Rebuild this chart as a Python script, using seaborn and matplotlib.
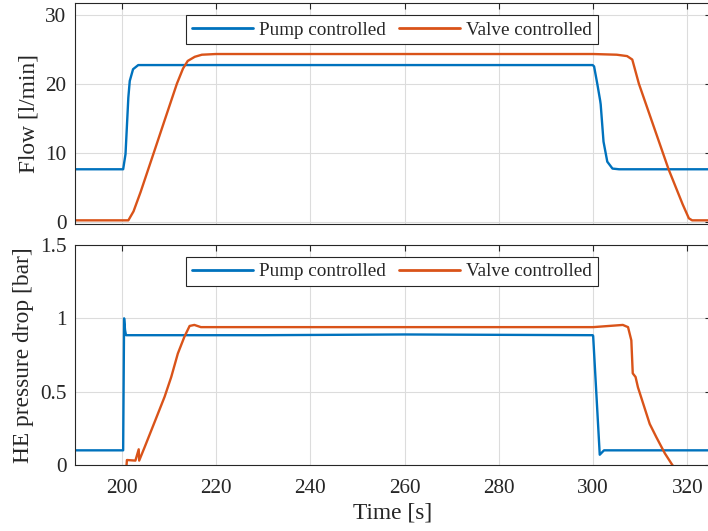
import numpy as np
import pandas as pd
import matplotlib
matplotlib.use("Agg")
import matplotlib.pyplot as plt
import seaborn as sns

# ---------------- data ----------------
series_names = ["Pump controlled", "Valve controlled"]
colors = ["#0072BD", "#D95319"]

# Flow [l/min]
t_flow_pump = [190, 200.3, 200.8, 201.4, 201.7, 202.4, 203.5, 230, 260, 299.9, 300.2,
               300.9, 301.5, 301.6, 302.2, 303.0, 304.1, 305.5, 325]
flow_pump = [7.6, 7.6, 9.8, 18.0, 20.4, 22.1, 22.7, 22.7, 22.7, 22.7, 22.5,
             19.9, 17.5, 17.0, 11.6, 8.7, 7.7, 7.6, 7.6]

t_flow_valve = [190, 201.4, 202.5, 204.0, 206.8, 209.0, 211.7, 213.0, 214.0, 215.5,
                217.0, 220.0, 260.0, 300.0, 305.0, 307.2, 308.3, 309.7, 313.0,
                316.0, 319.0, 320.3, 321.0, 325]
flow_valve = [0.2, 0.2, 1.5, 4.3, 10.0, 14.5, 20.0, 22.2, 23.3, 23.9,
              24.2, 24.3, 24.3, 24.3, 24.2, 24.0, 23.5, 20.0, 13.5,
              7.6, 2.5, 0.5, 0.2, 0.2]

# HE pressure drop [bar]
t_dp_pump = [190, 200.3, 200.5, 200.7, 200.9, 230, 260, 299.9, 300.0, 301.4, 302.3, 325]
dp_pump = [0.10, 0.10, 1.00, 0.92, 0.885, 0.885, 0.89, 0.885, 0.88, 0.07, 0.10, 0.10]

t_dp_valve = [190, 200.9, 201.1, 202.9, 203.6, 203.7, 204.9, 207.0, 209.1, 210.5,
              211.9, 213.3, 214.4, 215.4, 216.8, 260, 300, 306.3, 307.4, 308.1,
              308.4, 309.0, 309.5, 312.0, 313.4, 315.2, 316.8, 318.0, 325]
dp_valve = [-0.05, -0.05, 0.034, 0.03, 0.107, 0.03, 0.125, 0.295, 0.466, 0.60,
            0.76, 0.875, 0.948, 0.955, 0.94, 0.94, 0.94, 0.955, 0.94, 0.85,
            0.625, 0.60, 0.53, 0.28, 0.19, 0.08, 0.0, -0.05, -0.1]

x_ticks = [200, 220, 240, 260, 280, 300, 320]
flow_ticks = [0, 10, 20, 30]
dp_ticks = [0, 0.5, 1, 1.5]
dp_tick_labels = ["0", "0.5", "1", "1.5"]

df_flow = pd.concat([
    pd.DataFrame({"t": t_flow_pump, "v": flow_pump, "s": series_names[0]}),
    pd.DataFrame({"t": t_flow_valve, "v": flow_valve, "s": series_names[1]}),
], ignore_index=True)
df_dp = pd.concat([
    pd.DataFrame({"t": t_dp_pump, "v": dp_pump, "s": series_names[0]}),
    pd.DataFrame({"t": t_dp_valve, "v": dp_valve, "s": series_names[1]}),
], ignore_index=True)

# ---------------- style ----------------
sns.set_theme(style="white")
plt.rcParams["font.family"] = ["Liberation Serif", "DejaVu Serif"]
TICK_FS = 15.3
LABEL_FS = 16.8
LEG_FS = 13.8
TXT = "#262626"

fig = plt.figure(figsize=(7.08, 5.31), dpi=100)
W, H = 708, 531
left_px, right_px = 74.6, 711.0
ax1 = fig.add_axes([left_px / W, (H - 224) / H, (right_px - left_px) / W, (224 - 3.3) / H])
ax2 = fig.add_axes([left_px / W, (H - 465) / H, (right_px - left_px) / W, (465 - 245) / H])

palette = dict(zip(series_names, colors))

for ax, df in [(ax1, df_flow), (ax2, df_dp)]:
    sns.lineplot(data=df, x="t", y="v", hue="s", palette=palette, sort=False,
                 estimator=None, ax=ax, linewidth=1.7)
    ax.set_xlim(190, 325)
    ax.set_xticks(x_ticks)
    ax.grid(True, color="#dcdcdc", linewidth=0.8)
    ax.set_axisbelow(True)
    for sp in ax.spines.values():
        sp.set_color(TXT)
        sp.set_linewidth(0.8)
    ax.tick_params(direction="in", length=4, width=0.8, color=TXT,
                   top=True, right=True, labelsize=TICK_FS, labelcolor=TXT)
    ax.tick_params(axis="y", pad=6)
    ax.tick_params(axis="x", pad=10)
    ax.set_xlabel("")
    leg = ax.legend(loc="upper center", bbox_to_anchor=(0.4985, 0.945),
                    ncol=2, fontsize=LEG_FS, frameon=True, fancybox=False, edgecolor=TXT,
                    handlelength=3.2, columnspacing=0.7, borderpad=0.3, handletextpad=0.3,
                    borderaxespad=0.0)
    leg.get_frame().set_linewidth(0.8)
    leg.get_frame().set_facecolor("white")
    leg.get_frame().set_alpha(1.0)
    for txt in leg.get_texts():
        txt.set_color(TXT)
    for line in leg.get_lines():
        line.set_linewidth(2.0)

ax1.set_ylim(-0.33, 31.65)
ax1.set_yticks(flow_ticks)
ax1.set_xticklabels([])
ax1.set_ylabel("Flow [l/min]", fontsize=LABEL_FS, color=TXT, labelpad=4)

ax2.set_ylim(0, 1.5)
ax2.set_yticks(dp_ticks)
ax2.set_yticklabels(dp_tick_labels)
ax2.set_ylabel("HE pressure drop [bar]", fontsize=LABEL_FS, color=TXT, labelpad=4)
ax2.set_xlabel("Time [s]", fontsize=LABEL_FS, color=TXT, labelpad=3)

fig.align_ylabels([ax1, ax2])

fig.savefig("out.png", dpi=100)
